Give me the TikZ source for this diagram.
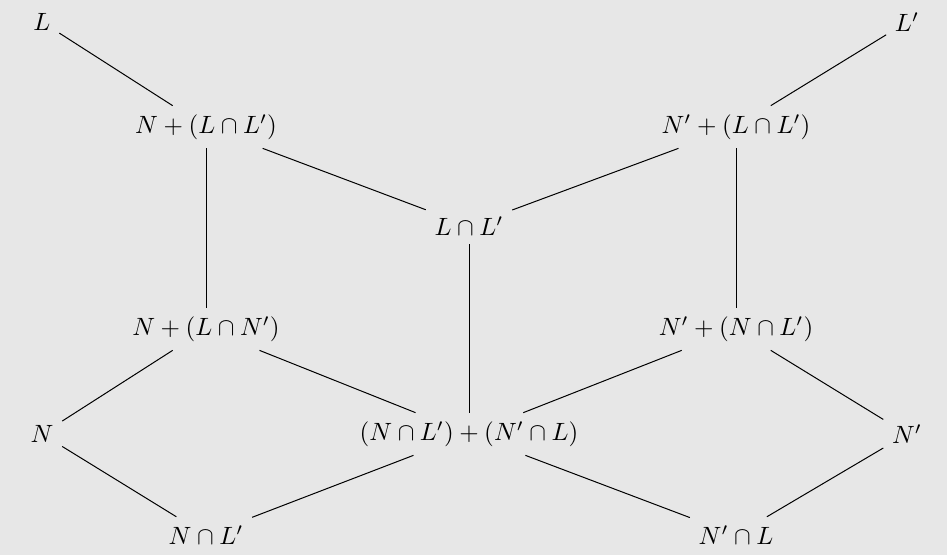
\documentclass[tikz,border=0pt]{standalone}
\usepackage{amsmath}
\definecolor{bg}{RGB}{231,231,231}
\begin{document}
\begin{tikzpicture}[x=0.4pt,y=-0.4pt,
  lat/.style={inner sep=3.33pt},
  edge/.style={draw=black,line width=0.4pt}]
\fill[bg] (0,0) rectangle (947,555);
\useasboundingbox (0,0) rectangle (947,555);
\node[lat] (L)   at (42,22)   {$L$};
\node[lat] (Lp)  at (907,22)  {$L'$};
\node[lat] (NL)  at (206,127) {$N+(L\cap L')$};
\node[lat] (NpL) at (736,127) {$N'+(L\cap L')$};
\node[lat] (LL)  at (469,226) {$L\cap L'$};
\node[lat] (NLN) at (206,329) {$N+(L\cap N')$};
\node[lat] (NpN) at (736,329) {$N'+(N\cap L')$};
\node[lat] (N)   at (42,434)  {$N$};
\node[lat] (S)   at (469,434) {$(N\cap L')+(N'\cap L)$};
\node[lat] (Np)  at (907,434) {$N'$};
\node[lat] (NcL) at (206,535) {$N\cap L'$};
\node[lat] (NpcL) at (736,535) {$N'\cap L$};
\draw[edge] (L) -- (NL);
\draw[edge] (Lp) -- (NpL);
\draw[edge] (NL) -- (LL);
\draw[edge] (NpL) -- (LL);
\draw[edge] (NL) -- (NLN);
\draw[edge] (NpL) -- (NpN);
\draw[edge] (LL) -- (S);
\draw[edge] (NLN) -- (N);
\draw[edge] (NLN) -- (S);
\draw[edge] (NpN) -- (S);
\draw[edge] (NpN) -- (Np);
\draw[edge] (N) -- (NcL);
\draw[edge] (Np) -- (NpcL);
\draw[edge] (S) -- (NcL);
\draw[edge] (S) -- (NpcL);
\end{tikzpicture}
\end{document}
